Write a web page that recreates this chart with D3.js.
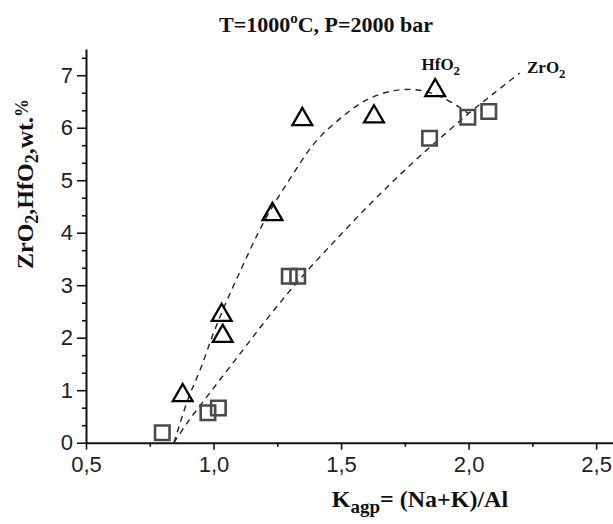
<!DOCTYPE html>
<html>
<head>
<meta charset="utf-8">
<script src="https://cdn.jsdelivr.net/npm/d3@7"></script>
<style>
  html, body { margin: 0; padding: 0; background: #fff; }
  svg { display: block; }
</style>
</head>
<body>
<script>
// ---- Data ----
const hfX = [0.879, 1.032, 1.036, 1.231, 1.348, 1.629, 1.869];
const hfY = [0.90, 2.43, 2.03, 4.35, 6.16, 6.21, 6.71];
const zrX = [0.799, 0.978, 1.019, 1.297, 1.330, 1.847, 1.997, 2.079];
const zrY = [0.19, 0.57, 0.66, 3.17, 3.17, 5.80, 6.20, 6.31];
// dashed fit curves (read points along the drawn curves)
const hfFitX = [0.845, 0.90, 0.95, 1.00, 1.05, 1.10, 1.20, 1.30, 1.40, 1.50, 1.60, 1.70, 1.80, 1.90, 2.00];
const hfFitY = [0.00, 0.83, 1.42, 2.09, 2.68, 3.22, 4.23, 5.03, 5.73, 6.19, 6.53, 6.70, 6.72, 6.57, 6.27];
const zrFitX = [0.845, 0.90, 1.00, 1.10, 1.20, 1.30, 1.40, 1.50, 1.60, 1.70, 1.80, 1.90, 2.00, 2.10, 2.20];
const zrFitY = [0.00, 0.40, 1.04, 1.67, 2.30, 2.90, 3.45, 3.97, 4.48, 4.96, 5.42, 5.85, 6.27, 6.66, 7.04];
const xTicks = [0.5, 1.0, 1.5, 2.0, 2.5];
const xTickLabels = ["0,5", "1,0", "1,5", "2,0", "2,5"];
const xMinor = [0.75, 1.25, 1.75, 2.25];
const yTicks = [0, 1, 2, 3, 4, 5, 6, 7];
const yMinorTicks = [0.333, 0.667, 1.333, 1.667, 2.333, 2.667, 3.333, 3.667, 4.333, 4.667, 5.333, 5.667, 6.333, 6.667, 7.333];

const W = 613, H = 524;
const svg = d3.select("body").append("svg").attr("width", W).attr("height", H)
  .style("background", "#fff");

const x = d3.scaleLinear().domain([0.5, 2.57]).range([86, 614]);
const y = d3.scaleLinear().domain([0, 7.5]).range([442.7, 49]);

const sans = "'Liberation Sans', Arial, sans-serif";
const serif = "'Liberation Serif', 'Times New Roman', serif";

// Axes
const xAxis = svg.append("g").attr("transform", `translate(0,${y(0)})`)
  .call(d3.axisBottom(x).tickValues(xTicks).tickFormat((d, i) => xTickLabels[i]).tickSize(7).tickSizeOuter(0).tickPadding(7));
const xAxisMinor = svg.append("g").attr("transform", `translate(0,${y(0)})`)
  .call(d3.axisBottom(x).tickValues(xMinor).tickFormat("").tickSize(4).tickSizeOuter(0));
const yAxis = svg.append("g").attr("transform", `translate(${x(0.5)},0)`)
  .call(d3.axisLeft(y).tickValues(yTicks).tickSize(9).tickSizeOuter(0).tickPadding(4));
const yAxisMinor = svg.append("g").attr("transform", `translate(${x(0.5)},0)`)
  .call(d3.axisLeft(y).tickValues(yMinorTicks).tickFormat("").tickSize(4).tickSizeOuter(0));

[xAxis, xAxisMinor, yAxis, yAxisMinor].forEach(g => {
  g.selectAll(".domain").attr("stroke", "#111").attr("stroke-width", 2);
  g.selectAll(".tick line").attr("stroke", "#111").attr("stroke-width", 1.6);
  g.selectAll("text").attr("font-family", sans).attr("font-size", 22).attr("fill", "#222");
});
xAxisMinor.select(".domain").remove();
yAxisMinor.select(".domain").remove();

// Fit curves
const line = d3.line().x(d => x(d[0])).y(d => y(d[1])).curve(d3.curveCatmullRom.alpha(0.5));
svg.append("path").datum(hfFitX.map((v, i) => [v, hfFitY[i]]))
  .attr("d", line).attr("fill", "none").attr("stroke", "#222")
  .attr("stroke-width", 1.4).attr("stroke-dasharray", "6,5");
svg.append("path").datum(zrFitX.map((v, i) => [v, zrFitY[i]]))
  .attr("d", line).attr("fill", "none").attr("stroke", "#222")
  .attr("stroke-width", 1.4).attr("stroke-dasharray", "6,5");

// Markers
svg.append("g").selectAll("path").data(zrX.map((v, i) => [v, zrY[i]])).join("path")
  .attr("d", d3.symbol(d3.symbolSquare, 210))
  .attr("transform", d => `translate(${x(d[0])},${y(d[1])})`)
  .attr("fill", "none").attr("stroke", "#4a4a4a").attr("stroke-width", 2.6);
svg.append("g").selectAll("path").data(hfX.map((v, i) => [v, hfY[i]])).join("path")
  .attr("d", d3.symbol(d3.symbolTriangle, 170))
  .attr("transform", d => `translate(${x(d[0])},${y(d[1])})`)
  .attr("fill", "none").attr("stroke", "#000").attr("stroke-width", 2.3);

// Title
const title = svg.append("text").attr("x", 326).attr("y", 32).attr("text-anchor", "middle")
  .attr("font-family", serif).attr("font-weight", "bold").attr("font-size", 22).attr("fill", "#111");
title.append("tspan").text("T=1000");
title.append("tspan").attr("font-size", 15).attr("dy", -9).text("o");
title.append("tspan").attr("dy", 9).text("C, P=2000 bar");

// Series labels
function chem(xp, yp, base, sub, size) {
  const t = svg.append("text").attr("x", xp).attr("y", yp)
    .attr("font-family", serif).attr("font-weight", "bold").attr("font-size", size).attr("fill", "#111");
  t.append("tspan").text(base);
  t.append("tspan").attr("font-size", size * 0.75).attr("dy", 5).text(sub);
  return t;
}
chem(421.5, 70, "HfO", "2", 17);
chem(527, 73, "ZrO", "2", 17);

// X axis label
const xl = svg.append("text").attr("x", 420).attr("y", 507).attr("text-anchor", "middle")
  .attr("font-family", serif).attr("font-weight", "bold").attr("font-size", 24).attr("fill", "#111");
xl.append("tspan").text("K");
xl.append("tspan").attr("font-size", 19).attr("dy", 6).text("agp");
xl.append("tspan").attr("dy", -6).text("= (Na+K)/Al");

// Y axis label
const yl = svg.append("text").attr("transform", "translate(33,184) rotate(-90)").attr("text-anchor", "middle")
  .attr("font-family", serif).attr("font-weight", "bold").attr("font-size", 24).attr("fill", "#111");
yl.append("tspan").text("ZrO");
yl.append("tspan").attr("font-size", 18).attr("dy", 5).text("2");
yl.append("tspan").attr("dy", -5).text(",HfO");
yl.append("tspan").attr("font-size", 18).attr("dy", 5).text("2");
yl.append("tspan").attr("dy", -5).text(",wt.");
yl.append("tspan").attr("font-size", 18).attr("dy", -5).text("%");
</script>
</body>
</html>
